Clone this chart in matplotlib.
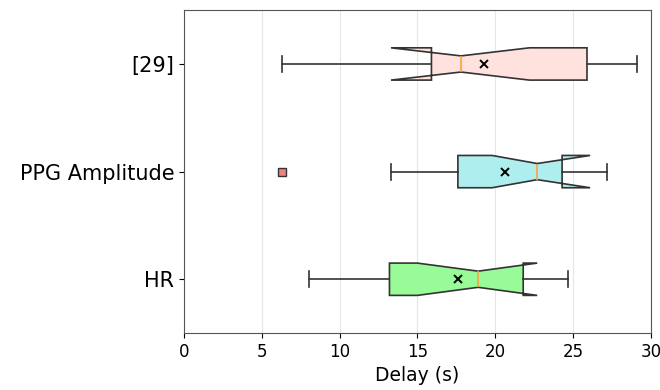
import matplotlib
matplotlib.use("Agg")
import matplotlib.pyplot as plt

# categories bottom to top
labels = ["HR", "PPG Amplitude", "[29]"]
colors = ["#98fb98", "#afeeee", "#ffe2de"]

# box stats (seconds)
whislo = [8.0, 13.3, 6.3]
q1 = [13.2, 17.6, 15.9]
med = [18.9, 22.7, 17.8]
q3 = [21.8, 24.3, 25.9]
whishi = [24.7, 27.2, 29.1]
cilo = [15.0, 19.8, 13.3]
cihi = [22.7, 26.1, 22.2]
mean = [17.6, 20.6, 19.3]
fliers = [[], [6.3], []]

stats = []
for i in range(len(labels)):
    stats.append(dict(label=labels[i], whislo=whislo[i], q1=q1[i], med=med[i],
                      q3=q3[i], whishi=whishi[i], cilo=cilo[i], cihi=cihi[i],
                      mean=mean[i], fliers=fliers[i]))

fig = plt.figure(figsize=(6.6, 3.9), dpi=100)
ax = fig.add_axes([0.279, 0.146, 0.707, 0.828])

bp = ax.bxp(stats, vert=False, widths=0.3, shownotches=True, showmeans=True,
            patch_artist=True,
            boxprops=dict(edgecolor="#333333", linewidth=1.2),
            whiskerprops=dict(color="#333333", linewidth=1.2),
            capprops=dict(color="#333333", linewidth=1.2),
            medianprops=dict(color="#ff9f40", linewidth=1.2),
            meanprops=dict(marker="x", markeredgecolor="black", markersize=6, markeredgewidth=1.4),
            flierprops=dict(marker="s", markerfacecolor="#f08080", markeredgecolor="#333333", markersize=6))
for patch, c in zip(bp["boxes"], colors):
    patch.set_facecolor(c)

ax.set_xlim(0, 30)
ax.set_ylim(0.5, 3.5)
ax.set_xticks([0, 5, 10, 15, 20, 25, 30])
ax.grid(True, axis="x", color="#e6e6e6", linewidth=0.8)
ax.set_axisbelow(True)
ax.tick_params(axis="y", labelsize=15)
ax.tick_params(axis="x", labelsize=12)
ax.set_xlabel("Delay (s)", fontsize=13.5)
for s in ax.spines.values():
    s.set_color("#555555")

fig.savefig("out.png", dpi=100)
